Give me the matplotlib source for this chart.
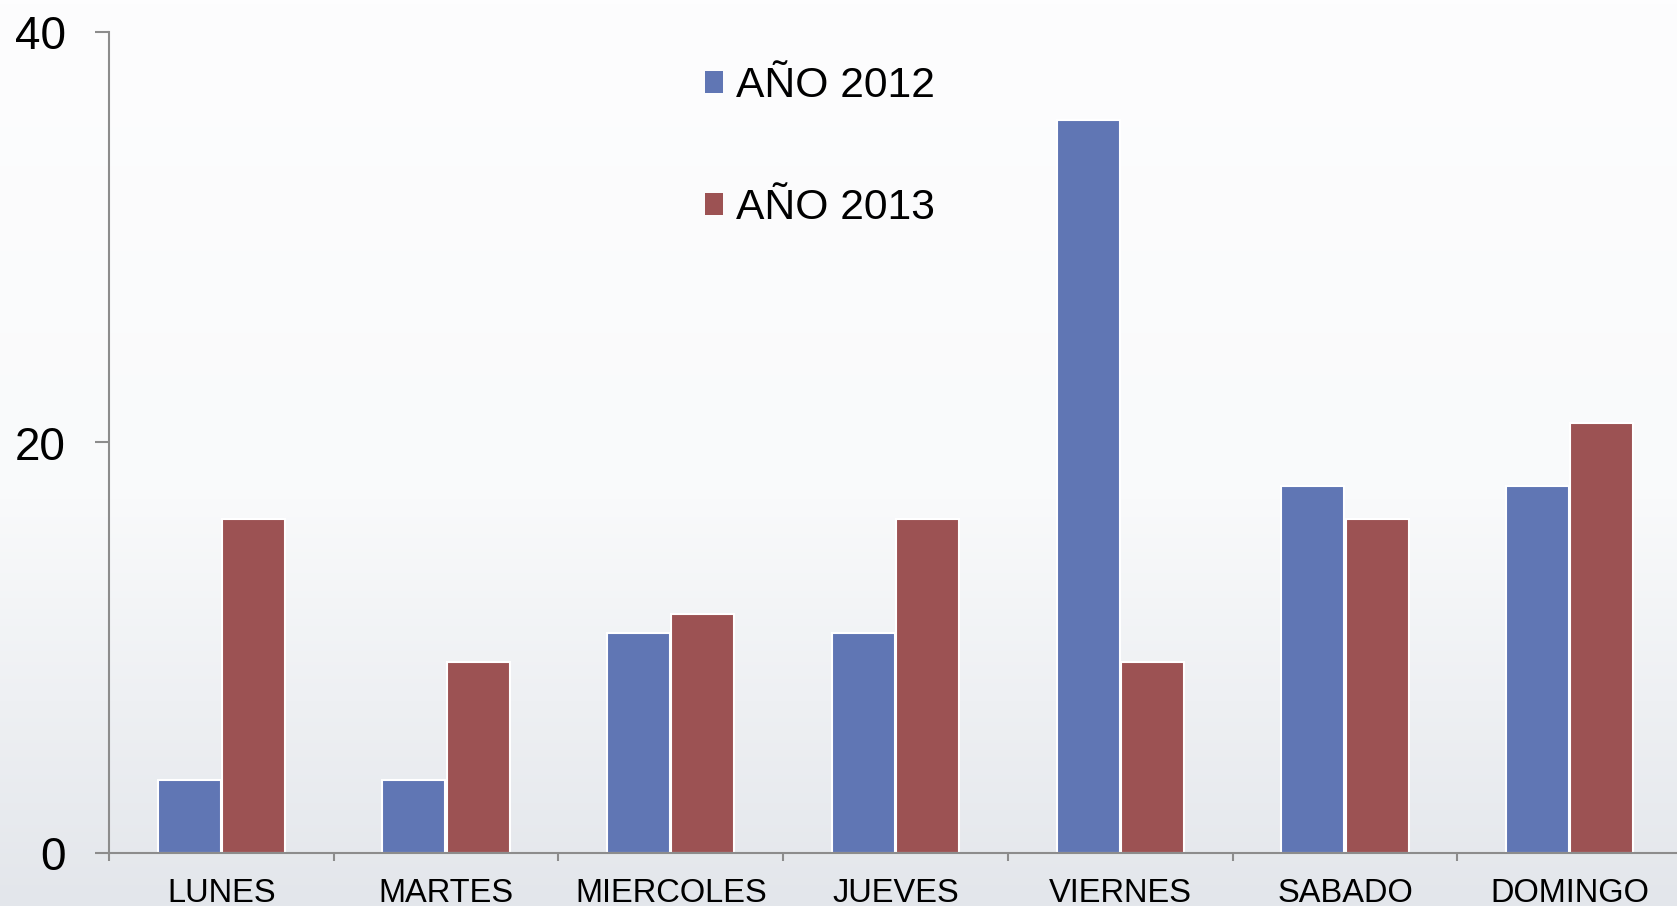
import matplotlib
matplotlib.use("Agg")
import matplotlib.pyplot as plt
import numpy as np
from matplotlib.patches import Patch
from matplotlib.colors import LinearSegmentedColormap

categories = ["LUNES", "MARTES", "MIERCOLES", "JUEVES", "VIERNES", "SABADO", "DOMINGO"]
series_names = ["AÑO 2012", "AÑO 2013"]
values_2012 = [3.57, 3.57, 10.71, 10.71, 35.71, 17.86, 17.86]
values_2013 = [16.28, 9.30, 11.63, 16.28, 9.30, 16.28, 20.93]
y_ticks = [0, 20, 40]

colors = ["#6076B4", "#9C5253"]

plt.rcParams['font.family'] = ['Liberation Sans', 'DejaVu Sans']

W, H = 1677, 906
fig = plt.figure(figsize=(W / 100, H / 100), dpi=100)

# background gradient
bg = fig.add_axes([0, 0, 1, 1], zorder=-10)
grad = np.linspace(0, 1, 256).reshape(-1, 1)
cmap = LinearSegmentedColormap.from_list("bg", [(0, "#fdfdfe"), (0.55, "#f9fafb"), (1.0, "#e3e6eb")])
bg.imshow(grad, aspect="auto", cmap=cmap, extent=[0, 1, 0, 1], origin="upper")
bg.set_axis_off()

left = 109 / W
bottom = 1 - 853 / H
top = 1 - 32 / H
ax = fig.add_axes([left, bottom, (1682 - 109) / W, top - bottom])
ax.patch.set_alpha(0)

x = np.arange(len(categories))
bw = 0.28
ax.bar(x - bw / 2 - 0.003, values_2012, width=bw, color=colors[0], edgecolor="white", linewidth=1.5, zorder=2)
ax.bar(x + bw / 2 + 0.003, values_2013, width=bw, color=colors[1], edgecolor="white", linewidth=1.5, zorder=2)

ax.set_xlim(-0.5, len(categories) - 0.5)
ax.set_ylim(0, 40)
ax.set_yticks(y_ticks)
ax.set_yticklabels([str(v) for v in y_ticks], fontsize=33)

# boundary ticks
ax.set_xticks(np.arange(-0.5, len(categories), 1.0))
ax.set_xticklabels([])
ax.set_xticks(x, minor=True)
ax.set_xticklabels(categories, minor=True, fontsize=23.5)
ax.tick_params(axis="x", which="major", length=6, width=1.5, color="#8c8c8c", direction="out")
ax.tick_params(axis="x", which="minor", length=0, pad=18)
ax.tick_params(axis="y", length=10, width=1.5, color="#8c8c8c", pad=21, direction="out")

for s in ["top", "right"]:
    ax.spines[s].set_visible(False)
for s in ["left", "bottom"]:
    ax.spines[s].set_color("#8c8c8c")
    ax.spines[s].set_linewidth(1.5)

handles = [Patch(facecolor=c, edgecolor="none") for c in colors]
leg = fig.legend(handles, series_names, loc="upper left",
                 bbox_to_anchor=(705 / W, 1 - 66 / H), frameon=False,
                 fontsize=30.7, handlelength=0.42, handleheight=0.42,
                 handletextpad=0.3, labelspacing=1.93, borderpad=0, borderaxespad=0)

fig.savefig("out.png", dpi=100)
